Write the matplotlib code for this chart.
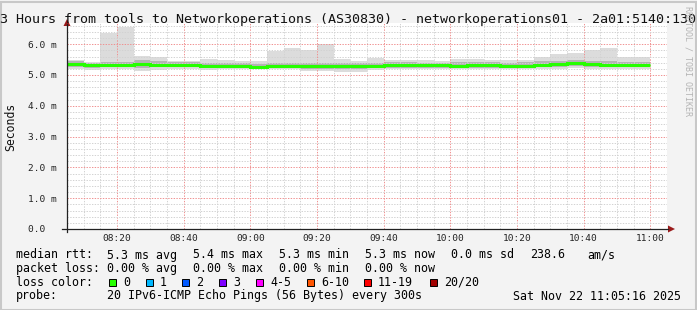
import numpy as np
import matplotlib
matplotlib.use('Agg')
import matplotlib.pyplot as plt
from matplotlib.patches import Rectangle, Polygon

# smokeping data, 5 minute steps starting 08:05 (minutes after 08:00)
start_min = 5
step_min = 5
median_ms = [5.35, 5.31, 5.31, 5.32, 5.35, 5.34, 5.34, 5.34, 5.28, 5.29, 5.29, 5.26,
             5.29, 5.29, 5.28, 5.28, 5.28, 5.28, 5.29, 5.31, 5.31, 5.31, 5.31, 5.30,
             5.31, 5.31, 5.30, 5.30, 5.34, 5.36, 5.39, 5.35, 5.34, 5.34, 5.34]
max_ms = [5.50, 5.43, 6.37, 6.55, 5.61, 5.60, 5.46, 5.46, 5.51, 5.48, 5.46, 5.46,
          5.78, 5.87, 5.80, 6.00, 5.52, 5.46, 5.54, 5.50, 5.50, 5.48, 5.46, 5.52,
          5.52, 5.50, 5.50, 5.50, 5.59, 5.67, 5.72, 5.80, 5.87, 5.59, 5.59]
hi_ms = [5.44, 5.40, 5.41, 5.43, 5.48, 5.46, 5.41, 5.41, 5.38, 5.40, 5.39, 5.37,
         5.40, 5.40, 5.38, 5.39, 5.38, 5.38, 5.40, 5.41, 5.41, 5.40, 5.40, 5.41,
         5.41, 5.41, 5.40, 5.41, 5.44, 5.47, 5.49, 5.45, 5.44, 5.43, 5.43]
lo_ms = [5.26, 5.24, 5.25, 5.25, 5.24, 5.25, 5.27, 5.27, 5.22, 5.23, 5.23, 5.21,
         5.22, 5.22, 5.20, 5.20, 5.20, 5.21, 5.22, 5.24, 5.24, 5.24, 5.24, 5.23,
         5.24, 5.24, 5.24, 5.24, 5.25, 5.27, 5.29, 5.26, 5.25, 5.26, 5.26]
min_ms = [5.21, 5.15, 5.21, 5.21, 5.13, 5.15, 5.21, 5.21, 5.17, 5.20, 5.20, 5.18,
          5.18, 5.18, 5.14, 5.14, 5.10, 5.10, 5.17, 5.20, 5.20, 5.20, 5.20, 5.18,
          5.19, 5.20, 5.19, 5.19, 5.20, 5.21, 5.22, 5.19, 5.18, 5.20, 5.20]

x_major = [20, 40, 60, 80, 100, 120, 140, 160, 180]
x_labels = ['08:20', '08:40', '09:00', '09:20', '09:40', '10:00', '10:20', '10:40', '11:00']
y_major = [0, 1, 2, 3, 4, 5, 6]
y_labels = ['0.0  ', '1.0 m', '2.0 m', '3.0 m', '4.0 m', '5.0 m', '6.0 m']

title = '3 Hours from tools to Networkoperations (AS30830) - networkoperations01 - 2a01:5140:130'

rtt_label = 'median rtt:'
rtt_items = ['5.3 ms avg', '5.4 ms max', '5.3 ms min', '5.3 ms now', '0.0 ms sd', '238.6', 'am/s']
rtt_x = [107, 193, 279, 365, 451, 530, 587]
loss_label = 'packet loss:'
loss_items = ['0.00 % avg', '0.00 % max', '0.00 % min', '0.00 % now']
loss_x = [107, 193, 279, 365]
color_label = 'loss color:'
loss_names = ['0', '1', '2', '3', '4-5', '6-10', '11-19', '20/20']
loss_colors = ['#26ff00', '#00b8ff', '#0059ff', '#7e00ff', '#ff00ff', '#ff5500', '#ff0000', '#a10000']
loss_box_x = [109, 146, 182, 219, 256, 307, 364, 430]
probe_label = 'probe:'
probe_text = '20 IPv6-ICMP Echo Pings (56 Bytes) every 300s'
stamp = 'Sat Nov 22 11:05:16 2025'

W, H = 697, 310
MONO = 'DejaVu Sans Mono'


def fx(px):
    return px / W


def fy(py):
    return 1 - py / H


fig = plt.figure(figsize=(W / 100, H / 100), dpi=100, facecolor='#f3f3f3')
ax = fig.add_axes([fx(67), fy(229), 600 / W, 206 / H])
ax.set_facecolor('white')
ax.set_xlim(5, 185)
ax.set_ylim(0, 206 / 30.8)

n = len(median_ms)
starts = start_min + step_min * np.arange(n)
edges = np.append(starts, starts[-1] + step_min)
med = np.array(median_ms)

# smoke
ax.bar(starts, np.array(max_ms) - np.array(min_ms), bottom=min_ms, width=step_min,
       align='edge', color='#dcdcdc', linewidth=0, zorder=1)
ax.bar(starts, np.array(hi_ms) - np.array(lo_ms), bottom=lo_ms, width=step_min,
       align='edge', color='#b4b4b4', linewidth=0, zorder=1)
ax.stairs(med, edges, baseline=None, color=loss_colors[0], lw=2.2, zorder=3)

# grid
ax.set_xticks(x_major)
ax.set_xticklabels(x_labels, fontfamily=MONO, fontsize=6.8, color='#222222')
ax.set_xticks(np.arange(5, 186, 5), minor=True)
ax.set_yticks(y_major)
ax.set_yticklabels(y_labels, fontfamily=MONO, fontsize=6.8, color='#222222')
ax.set_yticks(np.arange(0, 6.7, 0.2), minor=True)
ax.tick_params(which='both', length=0)
ax.tick_params(axis='x', pad=3.5)
ax.tick_params(axis='y', pad=7.5)
ax.grid(which='minor', color='#d2d2d2', lw=0.7, linestyle=(0, (1.4, 1.4)), zorder=2)
ax.grid(which='major', color='#f09090', lw=0.7, linestyle=(0, (1.4, 1.4)), zorder=2)
for s in ax.spines.values():
    s.set_visible(False)

# axes with arrows
fig.add_artist(plt.Line2D([fx(62), fx(668)], [fy(229), fy(229)], color='#222222', lw=0.9))
fig.add_artist(plt.Line2D([fx(67), fx(67)], [fy(232), fy(24)], color='#222222', lw=0.9))
fig.add_artist(Polygon([[fx(63.5), fy(26)], [fx(70.5), fy(26)], [fx(67), fy(19)]],
                       closed=True, color='#9a1b1b', lw=0))
fig.add_artist(Polygon([[fx(668), fy(225.5)], [fx(668), fy(232.5)], [fx(675), fy(229)]],
                       closed=True, color='#9a1b1b', lw=0))

# titles
fig.text(fx(348.5), fy(19), title, fontfamily=MONO, fontsize=9.6, ha='center', va='center',
         color='#111111')
fig.text(fx(11), fy(127), 'Seconds', fontfamily=MONO, fontsize=8.3, rotation=90,
         ha='center', va='center', color='#111111')
fig.text(fx(688), fy(6), 'RRDTOOL / TOBI OETIKER', fontfamily=MONO, fontsize=6,
         rotation=270, ha='center', va='top', color='#b4b4b4')

# legend
LS = 8.4
rows_y = [255, 268.5, 282, 296]
fig.text(fx(16), fy(rows_y[0]), rtt_label, fontfamily=MONO, fontsize=LS, va='center')
for t, x in zip(rtt_items, rtt_x):
    fig.text(fx(x), fy(rows_y[0]), t, fontfamily=MONO, fontsize=LS, va='center')
fig.text(fx(16), fy(rows_y[1]), loss_label, fontfamily=MONO, fontsize=LS, va='center')
for t, x in zip(loss_items, loss_x):
    fig.text(fx(x), fy(rows_y[1]), t, fontfamily=MONO, fontsize=LS, va='center')
fig.text(fx(16), fy(rows_y[2]), color_label, fontfamily=MONO, fontsize=LS, va='center')
for name, c, x in zip(loss_names, loss_colors, loss_box_x):
    fig.add_artist(Rectangle((fx(x), fy(rows_y[2] + 3.5)), 7 / W, 7 / H, facecolor=c,
                             edgecolor='black', lw=0.7))
    fig.text(fx(x + 14), fy(rows_y[2]), name, fontfamily=MONO, fontsize=LS, va='center')
fig.text(fx(16), fy(rows_y[3]), probe_label, fontfamily=MONO, fontsize=LS, va='center')
fig.text(fx(107), fy(rows_y[3]), probe_text, fontfamily=MONO, fontsize=LS, va='center')
fig.text(fx(681), fy(rows_y[3]), stamp, fontfamily=MONO, fontsize=LS, va='center', ha='right')

# frame
fig.add_artist(Rectangle((0.5 / W, 0.5 / H), (W - 2) / W, (H - 2) / H, fill=False,
                         edgecolor='#c8c8c8', lw=1.5))

fig.savefig('out.png', dpi=100, facecolor=fig.get_facecolor())
